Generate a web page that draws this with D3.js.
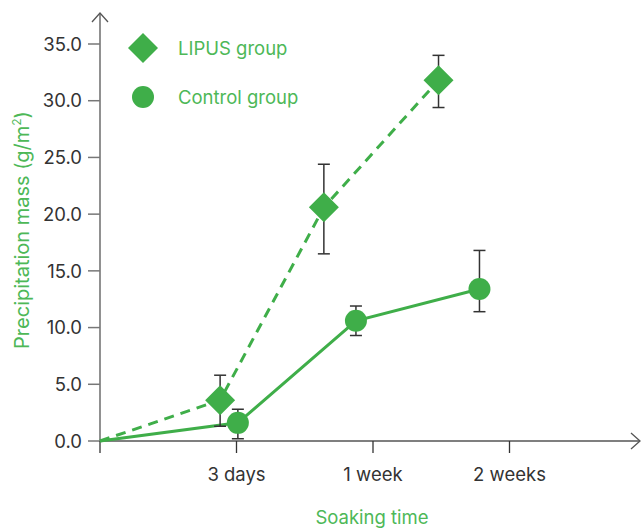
<!DOCTYPE html>
<html>
<head>
<meta charset="utf-8">
<script src="https://cdn.jsdelivr.net/npm/d3@7"></script>
<style>
  body { margin: 0; background: #fff; }
  svg text { font-family: Inter, "Liberation Sans", sans-serif; }
</style>
</head>
<body>
<main></main>
<script>
// Precipitation mass vs soaking time, two groups with error bars.

// x position in "tick units" (ticks sit at 1, 2, 3), points are slightly offset from ticks
const xTickLabels = ["3 days", "1 week", "2 weeks"];
const yTicks = [0, 5, 10, 15, 20, 25, 30, 35];

const lipusT    = [0, 0.88, 1.64, 2.48];
const lipusMean = [0, 3.6, 20.6, 31.8];
const lipusHi   = [null, 5.8, 24.4, 34.0];
const lipusLo   = [null, 1.3, 16.5, 29.4];

const controlT    = [0, 1.01, 1.875, 2.78];
const controlMean = [0, 1.6, 10.6, 13.4];
const controlHi   = [null, 2.8, 11.9, 16.8];
const controlLo   = [null, 0.2, 9.3, 11.4];

let green = "#3fae49",
    textGreen = "#4db857",
    axisGray = "#555",
    dark = "#333";

let width = 644,
    height = 529,
    fontSize = 18.5;

let svg = d3.select("main").append("svg")
  .attr("width", width)
  .attr("height", height);

let x = d3.scaleLinear().domain([0, 1]).range([100, 236.5]);
let y = d3.scaleLinear().domain([0, 35]).range([441, 44]);

// Axes.
let axisG = svg.append("g").attr("stroke", axisGray).attr("stroke-width", 1.3).attr("fill", "none");
axisG.append("line").attr("x1", x(0)).attr("y1", y(0)).attr("x2", 640).attr("y2", y(0));
axisG.append("path").attr("d", `M 631 ${y(0) - 8} L 640 ${y(0)} L 631 ${y(0) + 8}`);
axisG.append("line").attr("x1", x(0)).attr("y1", y(0)).attr("x2", x(0)).attr("y2", 13);
axisG.append("path").attr("d", `M ${x(0) - 8} 22 L ${x(0)} 13 L ${x(0) + 8} 22`);

// Y ticks.
let yt = svg.append("g").selectAll("g").data(yTicks).enter().append("g")
  .attr("transform", d => `translate(0, ${y(d)})`);
yt.append("line").attr("x1", 88).attr("x2", 100).attr("stroke", "#777").attr("stroke-width", 1.5);
yt.append("text")
  .attr("x", 82).attr("dy", "0.36em")
  .attr("text-anchor", "end")
  .attr("font-size", fontSize)
  .attr("fill", dark)
  .text(d => d.toFixed(1));

// X ticks.
let xTicks = [0, 1, 2, 3];
svg.append("g").selectAll("line").data(xTicks).enter().append("line")
  .attr("x1", d => x(d)).attr("x2", d => x(d))
  .attr("y1", y(0)).attr("y2", y(0) + 12)
  .attr("stroke", dark).attr("stroke-width", 1.3);
svg.append("g").selectAll("text").data(xTickLabels).enter().append("text")
  .attr("x", (d, i) => x(i + 1))
  .attr("y", 481)
  .attr("text-anchor", "middle")
  .attr("font-size", fontSize)
  .attr("fill", dark)
  .text(d => d);

// Axis titles.
svg.append("text")
  .attr("x", x(2) - 1).attr("y", 524)
  .attr("text-anchor", "middle")
  .attr("font-size", fontSize)
  .attr("fill", textGreen)
  .text("Soaking time");

let yTitle = svg.append("text")
  .attr("transform", "translate(29, 230) rotate(-90)")
  .attr("text-anchor", "middle")
  .attr("font-size", 20)
  .attr("fill", textGreen);
yTitle.append("tspan").text("Precipitation mass (g/m");
yTitle.append("tspan").attr("font-size", 12).attr("dy", -8).text("2");
yTitle.append("tspan").attr("dy", 8).text(")");

// Series.
function series(ts, means) { return ts.map((t, i) => ({ t: t, v: means[i] })); }
let lipus = series(lipusT, lipusMean);
let control = series(controlT, controlMean);

let line = d3.line().x(d => x(d.t)).y(d => y(d.v));

svg.append("path").datum(lipus)
  .attr("d", line).attr("fill", "none")
  .attr("stroke", green).attr("stroke-width", 3)
  .attr("stroke-dasharray", "10,7");
svg.append("path").datum(control)
  .attr("d", line).attr("fill", "none")
  .attr("stroke", green).attr("stroke-width", 3);

// Error bars.
function errorBars(ts, hi, lo) {
  let data = ts.map((t, i) => ({ t: t, hi: hi[i], lo: lo[i] })).filter(d => d.hi != null);
  let g = svg.append("g").attr("stroke", dark).attr("stroke-width", 1.5);
  let e = g.selectAll("g").data(data).enter().append("g");
  e.append("line").attr("x1", d => x(d.t)).attr("x2", d => x(d.t)).attr("y1", d => y(d.hi)).attr("y2", d => y(d.lo));
  e.append("line").attr("x1", d => x(d.t) - 6).attr("x2", d => x(d.t) + 6).attr("y1", d => y(d.hi)).attr("y2", d => y(d.hi));
  e.append("line").attr("x1", d => x(d.t) - 6).attr("x2", d => x(d.t) + 6).attr("y1", d => y(d.lo)).attr("y2", d => y(d.lo));
}
errorBars(lipusT, lipusHi, lipusLo);
errorBars(controlT, controlHi, controlLo);

// Markers.
let diamond = d3.symbol().type(d3.symbolSquare).size(450);
svg.append("g").selectAll("path").data(lipus.slice(1)).enter().append("path")
  .attr("d", diamond)
  .attr("transform", d => `translate(${x(d.t)}, ${y(d.v)}) rotate(45)`)
  .attr("fill", green);
svg.append("g").selectAll("circle").data(control.slice(1)).enter().append("circle")
  .attr("cx", d => x(d.t)).attr("cy", d => y(d.v)).attr("r", 11)
  .attr("fill", green);

// Legend.
svg.append("path").attr("d", diamond).attr("transform", "translate(143, 48) rotate(45)").attr("fill", green);
svg.append("circle").attr("cx", 143).attr("cy", 97).attr("r", 11).attr("fill", green);
svg.append("text").attr("x", 178).attr("y", 48).attr("dy", "0.36em").attr("font-size", fontSize).attr("fill", textGreen).text("LIPUS group");
svg.append("text").attr("x", 178).attr("y", 97).attr("dy", "0.36em").attr("font-size", fontSize).attr("fill", textGreen).text("Control group");
</script>
</body>
</html>
